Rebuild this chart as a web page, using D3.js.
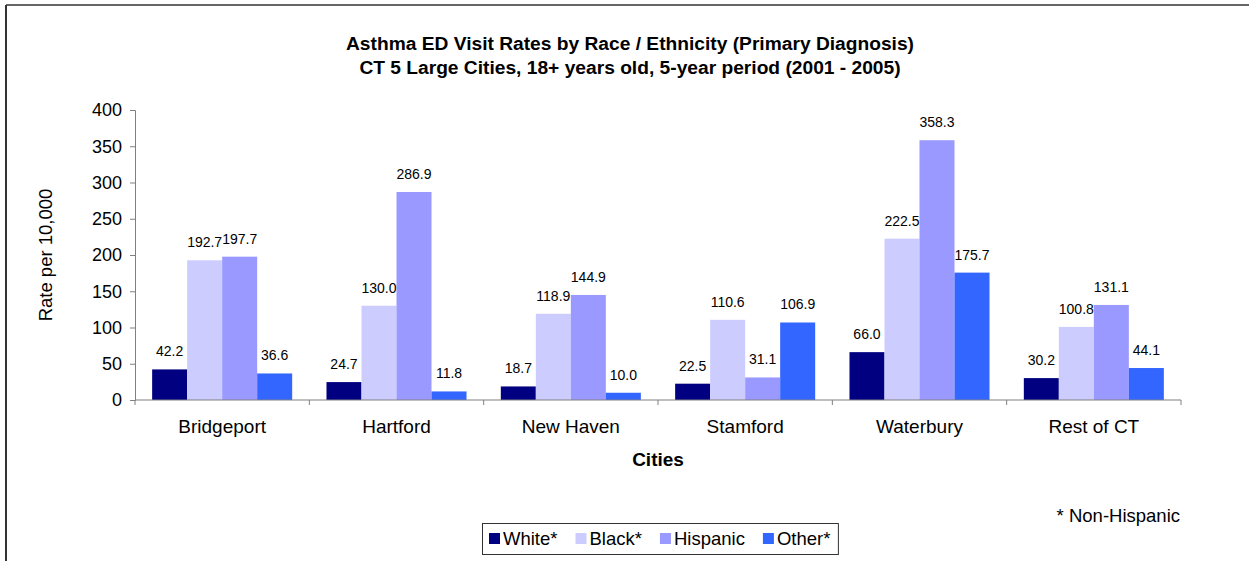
<!DOCTYPE html>
<html>
<head>
<meta charset="utf-8">
<script src="https://cdnjs.cloudflare.com/ajax/libs/d3/7.8.5/d3.min.js"></script>
<style>
  body { margin: 0; background: #fff; }
  text { font-family: Arial, "Liberation Sans", sans-serif; fill: #000; }
</style>
</head>
<body>
<svg id="chart" width="1249" height="561"></svg>
<script>
// data
var cities = ["Bridgeport", "Hartford", "New Haven", "Stamford", "Waterbury", "Rest of CT"];
var groups = ["White*", "Black*", "Hispanic", "Other*"];
var white    = [42.2, 24.7, 18.7, 22.5, 66.0, 30.2];
var black    = [192.7, 130.0, 118.9, 110.6, 222.5, 100.8];
var hispanic = [197.7, 286.9, 144.9, 31.1, 358.3, 131.1];
var other    = [36.6, 11.8, 10.0, 106.9, 175.7, 44.1];
var yTicks = [0, 50, 100, 150, 200, 250, 300, 350, 400];
var colors = ["#000080", "#ccccff", "#9999ff", "#3366ff"];

(function() {
  var series = [white, black, hispanic, other];
  var rows = cities.map(function(c, i) {
    return { city: c, vals: series.map(function(s, j) { return { key: groups[j], v: s[i] }; }) };
  });

  var svg = d3.select("#chart");

  // outer frame (only top and left show)
  svg.append("line").attr("x1", 6).attr("x2", 1249).attr("y1", 5).attr("y2", 5)
    .attr("stroke", "#333").attr("stroke-width", 1.5);
  svg.append("line").attr("x1", 6).attr("x2", 6).attr("y1", 5).attr("y2", 561)
    .attr("stroke", "#333").attr("stroke-width", 2);

  var pl = 135, pr = 1181, pt = 110, pb = 400;

  var x0 = d3.scaleBand().domain(cities).range([pl, pr]);
  var x1 = d3.scaleBand().domain(groups).range([0, x0.bandwidth()]).paddingInner(0).paddingOuter(0.49);
  var y = d3.scaleLinear().domain([0, 400]).range([pb, pt]);

  var color = d3.scaleOrdinal().domain(groups).range(colors);

  // title
  var title = svg.append("text").attr("text-anchor", "middle")
    .style("font-size", "19.2px").style("font-weight", "bold");
  title.append("tspan").attr("x", 630).attr("y", 50).text("Asthma ED Visit Rates by Race / Ethnicity (Primary Diagnosis)");
  title.append("tspan").attr("x", 630).attr("y", 74).text("CT 5 Large Cities, 18+ years old, 5-year period (2001 - 2005)");

  // bars
  var g = svg.append("g").selectAll("g").data(rows).enter().append("g")
    .attr("transform", function(d) { return "translate(" + x0(d.city) + ",0)"; });

  g.selectAll("rect").data(function(d) { return d.vals; }).enter().append("rect")
    .attr("x", function(d) { return x1(d.key); })
    .attr("width", x1.bandwidth())
    .attr("y", function(d) { return y(d.v); })
    .attr("height", function(d) { return y(0) - y(d.v); })
    .attr("fill", function(d) { return color(d.key); });

  g.selectAll("text").data(function(d) { return d.vals; }).enter().append("text")
    .attr("x", function(d) { return x1(d.key) + x1.bandwidth() / 2; })
    .attr("y", function(d) { return y(d.v) - 13; })
    .attr("text-anchor", "middle")
    .style("font-size", "14px")
    .text(function(d) { return d.v.toFixed(1); });

  // y axis
  var yAxis = svg.append("g").attr("transform", "translate(" + pl + ",0)")
    .call(d3.axisLeft(y).tickValues(yTicks).tickSize(5).tickPadding(8).tickFormat(d3.format("d")));
  yAxis.select(".domain").attr("stroke", "#808080");
  yAxis.selectAll(".tick line").attr("stroke", "#808080");
  yAxis.selectAll(".tick text").style("font-size", "18px").style("font-family", "Arial, 'Liberation Sans', sans-serif");

  // x axis
  var xAxis = svg.append("g").attr("transform", "translate(0," + pb + ")");
  xAxis.append("line").attr("x1", pl).attr("x2", pr).attr("y1", 0).attr("y2", 0).attr("stroke", "#808080");
  xAxis.selectAll("line.tk").data(cities.concat(["_end"])).enter().append("line")
    .attr("class", "tk")
    .attr("x1", function(d, i) { return pl + i * x0.bandwidth(); })
    .attr("x2", function(d, i) { return pl + i * x0.bandwidth(); })
    .attr("y1", 0).attr("y2", 5).attr("stroke", "#808080");
  xAxis.selectAll("text").data(cities).enter().append("text")
    .attr("x", function(d) { return x0(d) + x0.bandwidth() / 2; })
    .attr("y", 33)
    .attr("text-anchor", "middle")
    .style("font-size", "19px")
    .text(function(d) { return d; });

  // axis titles
  svg.append("text").attr("x", (pl + pr) / 2).attr("y", 466).attr("text-anchor", "middle")
    .style("font-size", "19px").style("font-weight", "bold").text("Cities");
  svg.append("text").attr("transform", "translate(52," + ((pt + pb) / 2) + ") rotate(-90)")
    .attr("text-anchor", "middle").style("font-size", "18.5px").text("Rate per 10,000");

  // footnote
  svg.append("text").attr("x", 1180).attr("y", 522).attr("text-anchor", "end")
    .style("font-size", "18.5px").text("* Non-Hispanic");

  // legend
  var lg = svg.append("g");
  var box = lg.append("rect").attr("x", 482.5).attr("y", 523.5).attr("height", 31)
    .attr("fill", "#fff").attr("stroke", "#333");
  var lx = 489;
  groups.forEach(function(k, i) {
    lg.append("rect").attr("x", lx).attr("y", 533).attr("width", 11).attr("height", 11).attr("fill", colors[i]);
    var t = lg.append("text").attr("x", lx + 14).attr("y", 545).style("font-size", "18.5px").text(k);
    lx += 14 + t.node().getComputedTextLength() + 18;
  });
  box.attr("width", lx - 18 + 8 - 482.5);
})();
</script>
</body>
</html>
